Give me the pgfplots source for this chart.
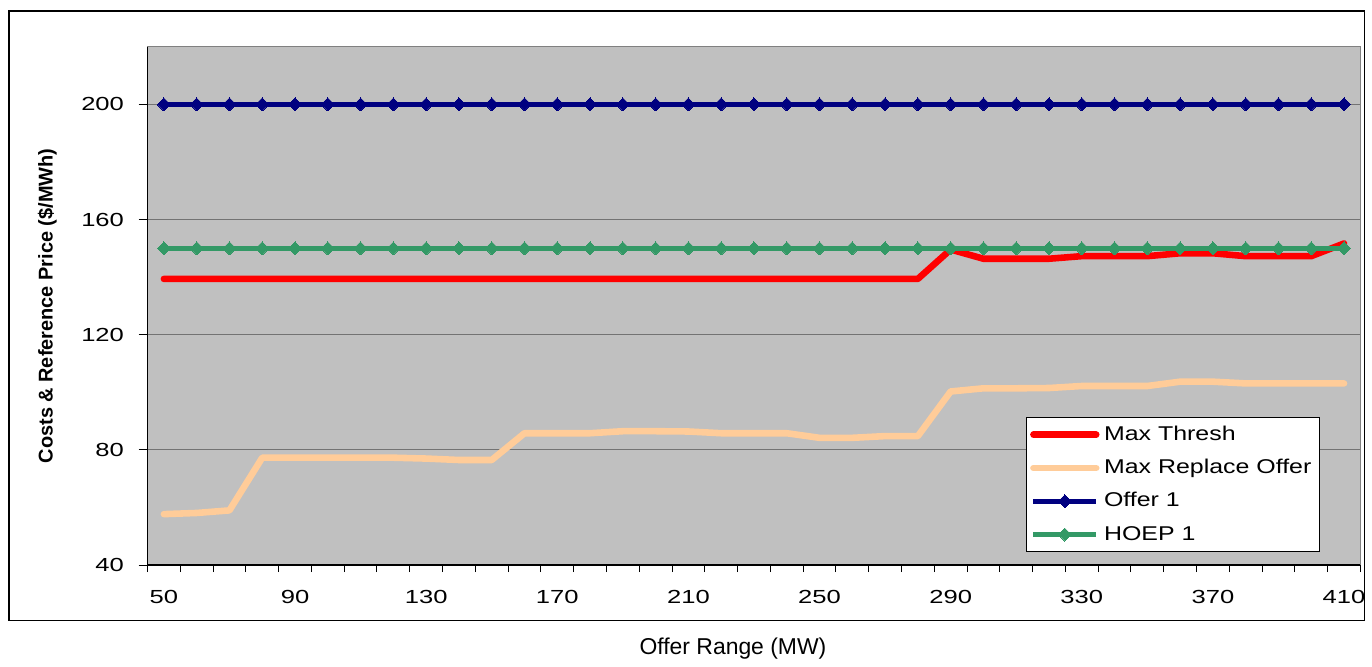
\documentclass[border=0pt]{standalone}
\usepackage{fontspec}
\setmainfont{Liberation Sans}
\newfontfamily\tickfont[FakeStretch=1.35]{Liberation Sans}
\newfontfamily\legfont[FakeStretch=1.25]{Liberation Sans}
\usepackage{graphicx}
\usepackage{pgfplots}
\usepackage{pgfplotstable}
\pgfplotsset{compat=1.18}
\definecolor{plotbg}{RGB}{192,192,192}
\definecolor{threshred}{RGB}{255,0,0}
\definecolor{replorange}{RGB}{255,204,153}
\definecolor{offernavy}{RGB}{0,0,128}
\definecolor{hoepgreen}{RGB}{51,153,102}
\pgfplotstableread{
x thresh replace offer hoep
50 139.4 57.7 200 150
60 139.4 58.1 200 150
70 139.4 59.0 200 150
80 139.4 77.3 200 150
90 139.4 77.3 200 150
100 139.4 77.3 200 150
110 139.4 77.3 200 150
120 139.4 77.3 200 150
130 139.4 77.0 200 150
140 139.4 76.5 200 150
150 139.4 76.5 200 150
160 139.4 85.8 200 150
170 139.4 85.8 200 150
180 139.4 85.8 200 150
190 139.4 86.5 200 150
200 139.4 86.5 200 150
210 139.4 86.4 200 150
220 139.4 85.8 200 150
230 139.4 85.8 200 150
240 139.4 85.8 200 150
250 139.4 84.2 200 150
260 139.4 84.2 200 150
270 139.4 84.8 200 150
280 139.4 84.8 200 150
290 149.6 100.3 200 150
300 146.4 101.4 200 150
310 146.4 101.4 200 150
320 146.4 101.5 200 150
330 147.3 102.2 200 150
340 147.3 102.2 200 150
350 147.3 102.2 200 150
360 148.3 103.7 200 150
370 148.3 103.7 200 150
380 147.3 103.1 200 150
390 147.3 103.1 200 150
400 147.3 103.1 200 150
410 151.7 103.1 200 150
}\datatable
\begin{document}
\begin{tikzpicture}[x=1pt,y=1pt]
\fill[white] (0,0) rectangle (686,329.5);
\draw[black, line width=0.6pt] (4.5,18) rectangle (684.5,324);
\begin{axis}[
  at={(74pt,46pt)}, anchor=south west,
  scale only axis, width=608.5pt, height=260pt,
  xmin=45, xmax=415, ymin=40, ymax=220,
  axis x line*=bottom, axis y line*=left,
  axis line style={-, black, line width=0.6pt},
  axis background/.style={fill=plotbg, draw=black!50, line width=0.6pt},
  xtick={50,90,...,410},
  minor xtick={45,55,...,415},
  ytick={40,80,...,200},
  tick align=outside,
  major tick length=4.5pt,
  minor tick length=3.5pt,
  major x tick style={draw=none},
  every tick/.style={black, line width=0.5pt},
  minor tick style={black, line width=0.5pt},
  ymajorgrids,
  major grid style={black!55, line width=0.5pt},
  /pgf/number format/assume math mode=true,
  tick label style={font=\fontsize{9.5}{11}\tickfont},
  xticklabel style={yshift=-4.8pt},
  yticklabel style={xshift=-3.8pt},
  xlabel={Offer Range (MW)},
  xlabel style={at={(axis description cs:0.4827,-0.162)}, anchor=center, font=\fontsize{11.5}{13}\selectfont},
  ylabel={Costs \& Reference Price (\$/MWh)},
  ylabel style={at={(axis description cs:-0.0826,0.5)}, anchor=center, font=\fontsize{10}{12}\selectfont\bfseries},
  legend image code/.code={\draw[mark repeat=2,mark phase=2,#1] plot coordinates {(0pt,0pt) (15.75pt,0pt) (31.5pt,0pt)};},
  legend style={at={(0.724,0.285)}, anchor=north west, draw=black, line width=0.5pt, fill=white,
    font=\fontsize{10}{12}\legfont, row sep=7.2pt, inner xsep=2pt, inner ysep=3.7pt,
    nodes={inner ysep=0pt, inner xsep=2.3pt, text height=7.5pt, text depth=2pt}},
  legend cell align=left,
  clip=false,
]
\addplot[threshred, line width=3.3pt, line cap=round, line join=round] table[x=x,y=thresh] {\datatable};
\addlegendentry{Max Thresh}
\addplot[replorange, line width=3.3pt, line cap=round, line join=round] table[x=x,y=replace] {\datatable};
\addlegendentry{Max Replace Offer}
\addplot[offernavy, line width=2.4pt, mark=square*, mark size=2.3pt, mark options={rotate=45, solid, line width=0pt, fill=offernavy}] table[x=x,y=offer] {\datatable};
\addlegendentry{Offer 1}
\addplot[hoepgreen, line width=2.4pt, mark=square*, mark size=2.3pt, mark options={rotate=45, solid, line width=0pt, fill=hoepgreen}] table[x=x,y=hoep] {\datatable};
\addlegendentry{HOEP 1}
\end{axis}
\end{tikzpicture}
\end{document}
